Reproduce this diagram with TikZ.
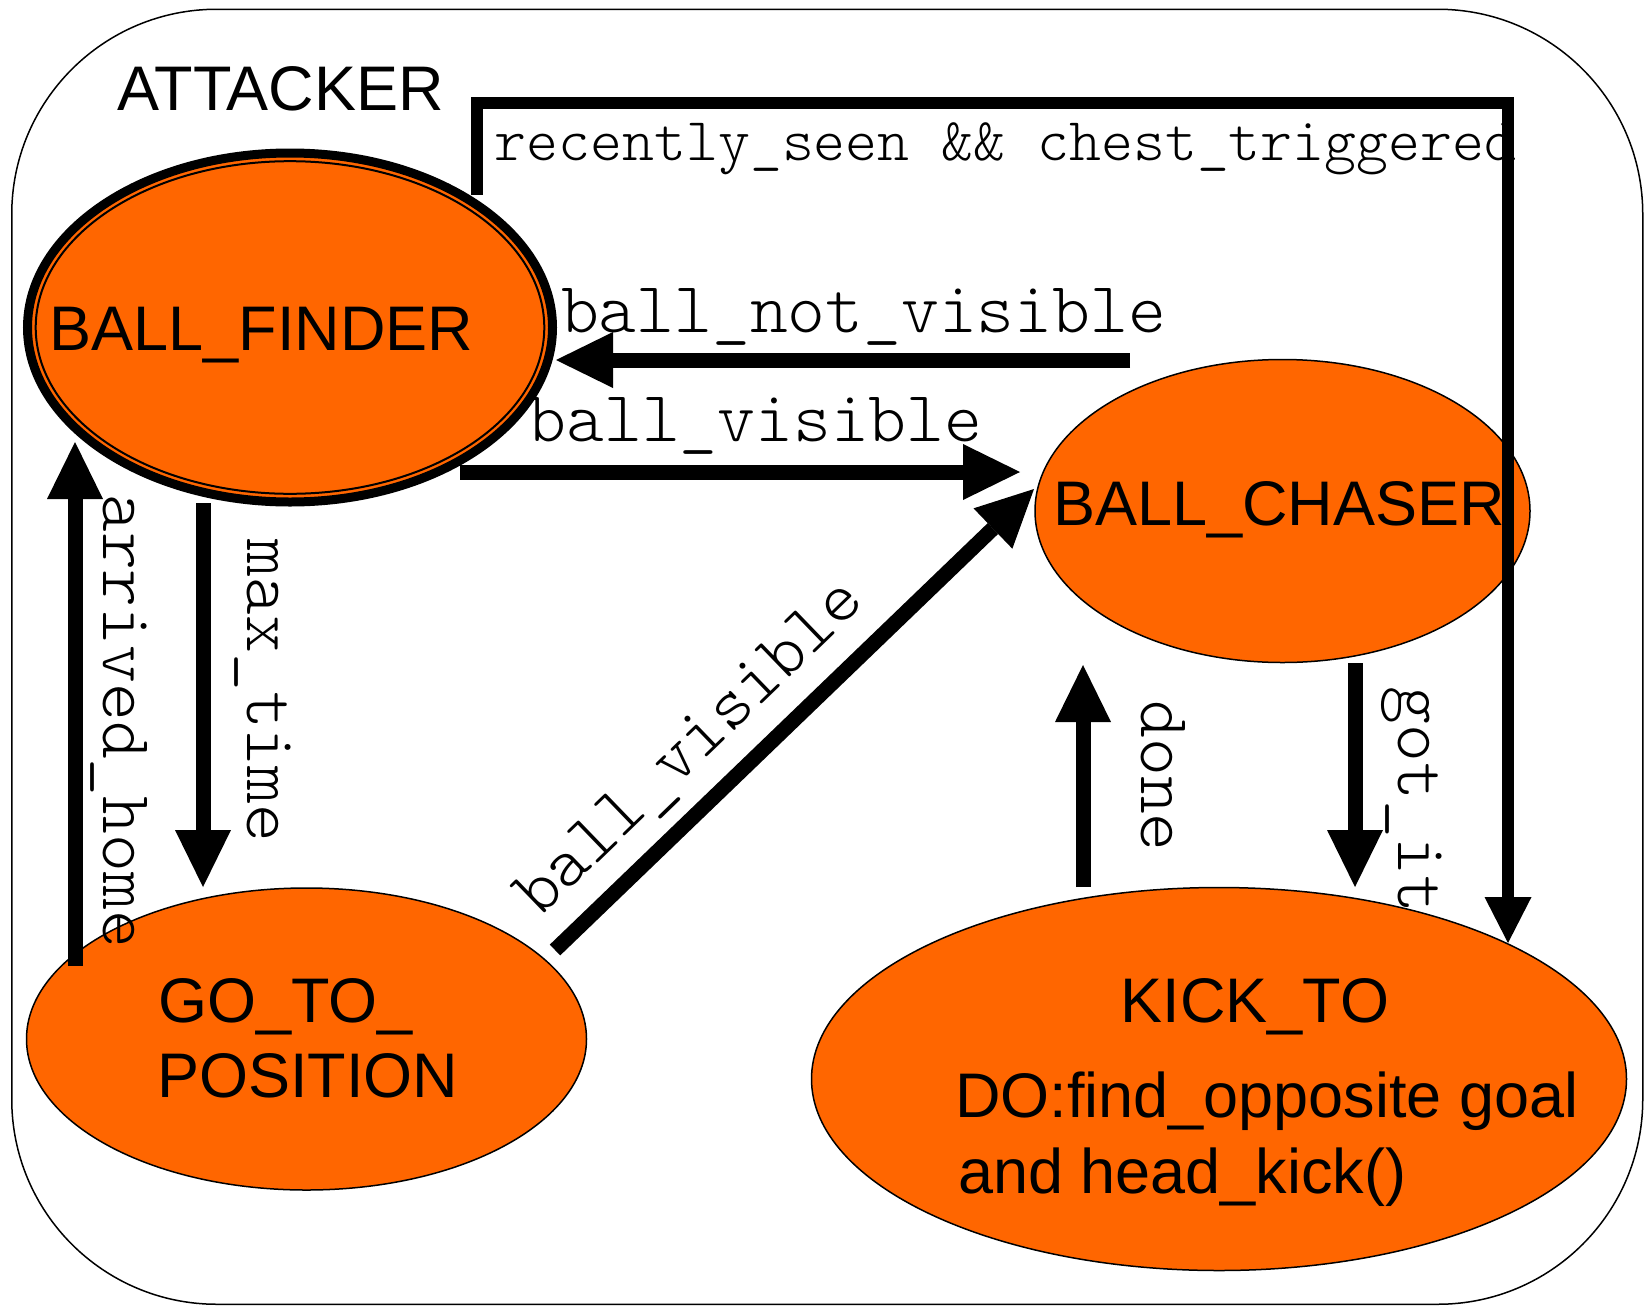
\documentclass[tikz,border=0pt]{standalone}
\usepackage{fontspec}
\usetikzlibrary{shapes.geometric,arrows.meta}
\newfontfamily\arialf{Liberation Sans}
\newfontfamily\monolt{lmmonolt10-regular}[Extension=.otf]
\definecolor{stateorange}{HTML}{FF6600}
\begin{document}
\begin{tikzpicture}[x=1pt,y=-1pt,
  state/.style={ellipse, fill=stateorange, draw=black, line width=1.5pt, inner sep=0pt, outer sep=0pt},
  stxt/.style={font=\arialf\fontsize{63}{75}\selectfont, inner sep=0pt, anchor=base},
  lbl/.style={font=\monolt\fontsize{72}{80}\selectfont, inner sep=0pt},
  trans/.style={line width=15pt, -{Triangle[width=56pt,length=57pt,line width=0pt]}},
  bigtrans/.style={line width=12pt, line join=miter, -{Triangle[width=47pt,length=46pt,line width=0pt]}},
]
\useasboundingbox (0,0) rectangle (1651,1309);
% frame
\node[draw, line width=1.5pt, rounded corners=205pt, minimum width=1631pt, minimum height=1295pt, inner sep=0pt, anchor=north west] (frame) at (11,8.5) {};
\node[stxt] (tATT) at (280.5,110) {ATTACKER};
% label partly hidden by KICK_TO
\node[lbl, rotate=-90, anchor=base] (lGot) at (1398,800) {got\_it};
% states
\node[state, line width=9pt, minimum width=525pt, minimum height=349pt] (BF) at (290,327.5) {};
\draw[line width=2pt] (BF.center) ellipse [x radius=254.3pt, y radius=166.3pt];
\node[state, minimum width=495pt, minimum height=303pt] (BC) at (1282.5,511) {};
\node[state, minimum width=560pt, minimum height=302pt] (GP) at (306.5,1039) {};
\node[state, minimum width=815pt, minimum height=383pt] (KT) at (1219,1079) {};
% state texts
\node[stxt] (tBF) at (261.5,350) {BALL\_FINDER};
\node[stxt] (tBC) at (1279,525) {BALL\_CHASER};
\node[stxt, anchor=base west] (tGP1) at (158,1022) {GO\_TO\_};
\node[stxt, anchor=base west] (tGP2) at (157,1097) {POSITION};
\node[stxt] (tKT1) at (1255,1022) {KICK\_TO};
\node[stxt, anchor=base west] (tKT2) at (955,1117) {DO:find\_opposite goal};
\node[stxt, anchor=base west] (tKT3) at (958,1193) {and head\_kick()};
% transition labels
\node[lbl, anchor=base] (lBNV) at (863.5,332) {ball\_not\_visible};
\node[lbl, anchor=base] (lBV) at (755.5,441) {ball\_visible};
\node[lbl, rotate=44] (lBV2) at (692,750) {ball\_visible};
\node[lbl, rotate=-90, anchor=base] (lMT) at (247,691) {max\_time};
\node[lbl, rotate=-90, anchor=base] (lAH) at (103,721) {arrived\_home};
\node[lbl, rotate=-90, anchor=base] (lDone) at (1141,776) {done};
\node[lbl, font=\monolt\fontsize{60.8}{70}\selectfont, anchor=base] (lRC) at (1005.5,160) {recently\_seen \&\& chest\_triggered};
% connector ends
\coordinate (bnvS) at (1130,360); \coordinate (bnvE) at (556,360);
\coordinate (bvS) at (460,472);  \coordinate (bvE) at (1020,472);
\coordinate (dgS) at (555,950);  \coordinate (dgE) at (1034,489);
\coordinate (mtS) at (203,503);  \coordinate (mtE) at (203,887);
\coordinate (ahS) at (75,966);   \coordinate (ahE) at (75,442);
\coordinate (dnS) at (1083,887); \coordinate (dnE) at (1083,665);
\coordinate (giS) at (1355,663); \coordinate (giE) at (1355,887);
\coordinate (rcS) at (477,195);  \coordinate (rcA) at (477,103);
\coordinate (rcB) at (1508,103); \coordinate (rcE) at (1508,943);
% connectors
\draw[trans] (bnvS) -- (bnvE);
\draw[trans] (bvS) -- (bvE);
\draw[trans] (dgS) -- (dgE);
\draw[trans] (mtS) -- (mtE);
\draw[trans] (ahS) -- (ahE);
\draw[trans] (dnS) -- (dnE);
\draw[trans] (giS) -- (giE);
\draw[bigtrans] (rcS) -- (rcA) -- (rcB) -- (rcE);
\end{tikzpicture}
\end{document}
